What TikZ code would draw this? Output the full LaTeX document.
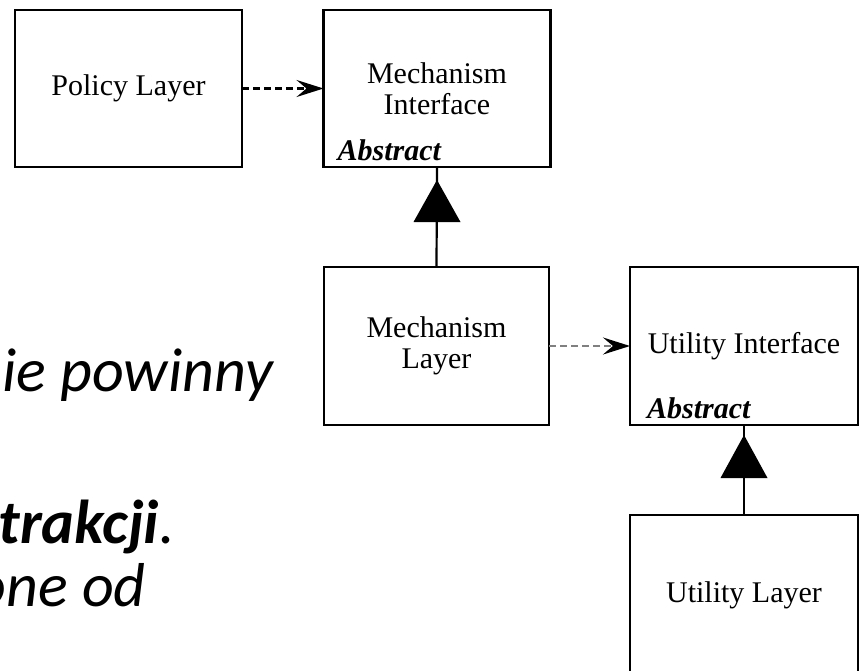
\documentclass[tikz,border=0pt]{standalone}
\usepackage{fontspec}
\setmainfont{Liberation Serif}
\newfontfamily\slidefont{Carlito}
\usetikzlibrary{arrows.meta,calc}
\begin{document}
\begin{tikzpicture}[x=1pt,y=1pt,
  classbox/.style={draw=black,line width=2.2pt,rectangle,minimum width=227pt,
    minimum height=157pt,inner sep=0pt,outer sep=0pt,align=center,
    font=\fontsize{30}{31}\selectfont},
  abstracttag/.style={font=\fontsize{30}{31}\selectfont\bfseries\itshape,
    inner sep=0pt,anchor=base west},
  depends/.style={line width=2.5pt,dash pattern=on 7pt off 4pt,
    -{Stealth[length=27pt,width=17pt,inset=10pt,color=black]}},
  realizes/.style={line width=2.2pt},
  slidetext/.style={font=\slidefont\fontsize{62}{74}\selectfont\itshape,
    inner sep=0pt,anchor=base east}
]
\useasboundingbox (0,0) rectangle (860,-670);
\clip (0,0) rectangle (860,-670);

% fragments of the slide text behind the diagram
\node[slidetext] (s1) at (273,-391) {ie powinny};
\node[slidetext] (s2) at (175,-543) {\bfseries trakcji\mdseries.};
\node[slidetext] (s3) at (146,-606) {one od};

% classes
\node[classbox] (policy) at (128.5,-88.5) {Policy Layer};
\node[classbox] (mi) at (437,-88.5) {Mechanism\\Interface};
\node[classbox,minimum width=225pt,minimum height=158pt] (ml) at (436.5,-346) {Mechanism\\Layer};
\node[classbox,minimum width=228pt,minimum height=158pt] (ui) at (744,-346) {Utility Interface};
\node[classbox,minimum width=228pt,minimum height=160pt] (ul) at (744,-595) {Utility Layer};

\node[abstracttag] (miabs) at ($(mi.south west)+(14,7)$) {Abstract};
\node[abstracttag] (uiabs) at ($(ui.south west)+(17,7)$) {Abstract};

% dependencies
\draw[depends] (policy.east) -- (mi.west);
\draw[depends,draw=gray] (ml.east) -- (ui.west);

% realizations
\draw[realizes] (ml.north) -- (mi.south);
\fill ($(mi.south)+(0,-13)$) -- ++(-23.5,-42) -- ++(47,0) -- cycle;
\draw[realizes] (ul.north) -- (ui.south);
\fill ($(ui.south)+(0,-10)$) -- ++(-23.5,-43) -- ++(47,0) -- cycle;
\end{tikzpicture}
\end{document}
